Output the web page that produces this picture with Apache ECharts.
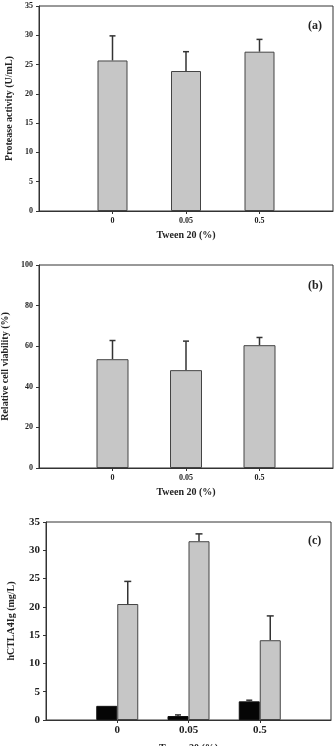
<!DOCTYPE html>
<html>
<head>
<meta charset="utf-8">
<script src="https://cdn.jsdelivr.net/npm/echarts@6/dist/echarts.min.js"></script>
<style>
html,body{margin:0;padding:0;background:#fff;}
#c{width:335px;height:746px;}
</style>
</head>
<body>
<div id="c"></div>
<script>
// ---- data ----
var categories = ['0', '0.05', '0.5'];
var proteaseActivity = [25.7, 23.9, 27.2];
var proteaseErr = [4.2, 3.3, 2.1];
var cellViability = [53.6, 48.2, 60.5];
var cellViabilityErr = [9.2, 14.3, 3.8];
var hctlaBlack = [2.5, 0.7, 3.3];
var hctlaBlackErr = [0, 0.2, 0.2];
var hctlaGray = [20.5, 31.6, 14.1];
var hctlaGrayErr = [4.0, 1.3, 4.3];
var yTicksA = [0, 5, 10, 15, 20, 25, 30, 35];
var yTicksB = [0, 20, 40, 60, 80, 100];
var yTicksC = [0, 5, 10, 15, 20, 25, 30, 35];

// ---- helpers ----
var FONT = '"Liberation Serif", "Times New Roman", serif';
var slots = [''].concat(categories).concat(['']);
function pad(arr) { return [null].concat(arr).concat([null]); }
var axisColor = '#333';

function xAxis(gridIndex, labelSize, nameGap, labelMargin) {
  return {
    type: 'category', gridIndex: gridIndex, data: slots, boundaryGap: false,
    axisLine: { lineStyle: { color: axisColor, width: 1 } },
    axisTick: { show: true, length: 3, interval: function (i) { return i >= 1 && i <= 3; }, lineStyle: { color: axisColor } },
    axisLabel: { fontFamily: FONT, fontWeight: 'bold', fontSize: labelSize, color: '#222', margin: labelMargin, interval: 0 },
    name: 'Tween 20 (%)', nameLocation: 'middle', nameGap: nameGap, nameMoveOverlap: false,
    nameTextStyle: { fontFamily: FONT, fontWeight: 'bold', fontSize: 10, color: '#222' },
    splitLine: { show: false }
  };
}
function yAxis(gridIndex, ticks, name, labelSize, nameGap) {
  return {
    type: 'value', gridIndex: gridIndex, min: ticks[0], max: ticks[ticks.length - 1],
    interval: ticks[1] - ticks[0],
    axisLine: { show: true, lineStyle: { color: axisColor, width: 1 } },
    axisTick: { show: true, length: 3, lineStyle: { color: axisColor } },
    axisLabel: { fontFamily: FONT, fontWeight: 'bold', fontSize: labelSize, color: '#222', margin: 6 },
    splitLine: { show: false },
    name: name, nameLocation: 'middle', nameGap: nameGap,
    nameTextStyle: { fontFamily: FONT, fontWeight: 'bold', fontSize: 10, color: '#222' }
  };
}
function errSeries(xi, yi, vals, errs, offset, cap) {
  var data = [];
  for (var i = 0; i < vals.length; i++) data.push([i + 1, vals[i], vals[i] + errs[i]]);
  return {
    type: 'custom', xAxisIndex: xi, yAxisIndex: yi, data: data, z: 1,
    renderItem: function (params, api) {
      var lo = api.coord([api.value(0), api.value(1)]);
      var hi = api.coord([api.value(0), api.value(2)]);
      var x = lo[0] + offset;
      if (Math.abs(lo[1] - hi[1]) < 0.5) return null;
      return {
        type: 'group', children: [
          { type: 'line', shape: { x1: x, y1: lo[1], x2: x, y2: hi[1] }, style: { stroke: '#333', lineWidth: 1.5 } },
          { type: 'line', shape: { x1: x - cap / 2, y1: hi[1], x2: x + cap / 2, y2: hi[1] }, style: { stroke: '#333', lineWidth: 1.5 } }
        ]
      };
    }
  };
}
var grayBar = { color: '#c6c6c6', borderColor: '#444', borderWidth: 1 };
var blackBar = { color: '#050505', borderColor: '#111', borderWidth: 1 };

var gridStyle = { show: true, borderColor: axisColor, borderWidth: 1, backgroundColor: 'transparent', containLabel: false, outerBoundsMode: 'none' };

var option = {
  animation: false,
  backgroundColor: '#fff',
  title: [
    { text: '(a)', left: 303, top: 15, textStyle: { fontFamily: FONT, fontWeight: 'bold', fontSize: 12, color: '#222' } },
    { text: '(b)', left: 303, top: 275, textStyle: { fontFamily: FONT, fontWeight: 'bold', fontSize: 12, color: '#222' } },
    { text: '(c)', left: 303, top: 530, textStyle: { fontFamily: FONT, fontWeight: 'bold', fontSize: 12, color: '#222' } }
  ],
  grid: [
    Object.assign({ left: 39, right: 2, top: 6, height: 205 }, gridStyle),
    Object.assign({ left: 39, right: 2, top: 265, height: 203 }, gridStyle),
    Object.assign({ left: 46, right: 4, top: 522, height: 198 }, gridStyle)
  ],
  xAxis: [
    xAxis(0, 8, 19, 6),
    xAxis(1, 8, 19, 6),
    xAxis(2, 11, 23, 5)
  ],
  yAxis: [
    yAxis(0, yTicksA, 'Protease activity (U/mL)', 8, 23),
    yAxis(1, yTicksB, 'Relative cell viability (%)', 8, 23),
    yAxis(2, yTicksC, 'hCTLA4Ig (mg/L)', 11, 30)
  ],
  series: [
    { type: 'bar', xAxisIndex: 0, yAxisIndex: 0, data: pad(proteaseActivity), barWidth: 30, itemStyle: grayBar, z: 2 },
    errSeries(0, 0, proteaseActivity, proteaseErr, 0, 6),
    { type: 'bar', xAxisIndex: 1, yAxisIndex: 1, data: pad(cellViability), barWidth: 32, itemStyle: grayBar, z: 2 },
    errSeries(1, 1, cellViability, cellViabilityErr, 0, 6),
    { type: 'bar', xAxisIndex: 2, yAxisIndex: 2, data: pad(hctlaBlack), barWidth: 21, barGap: '0%', itemStyle: blackBar, z: 2 },
    { type: 'bar', xAxisIndex: 2, yAxisIndex: 2, data: pad(hctlaGray), barWidth: 21, barGap: '0%', itemStyle: grayBar, z: 2 },
    errSeries(2, 2, hctlaBlack, hctlaBlackErr, -10.5, 6),
    errSeries(2, 2, hctlaGray, hctlaGrayErr, 10.5, 7)
  ]
};
var chart = echarts.init(document.getElementById('c'), null, { renderer: 'canvas' });
chart.setOption(option);
</script>
</body>
</html>
